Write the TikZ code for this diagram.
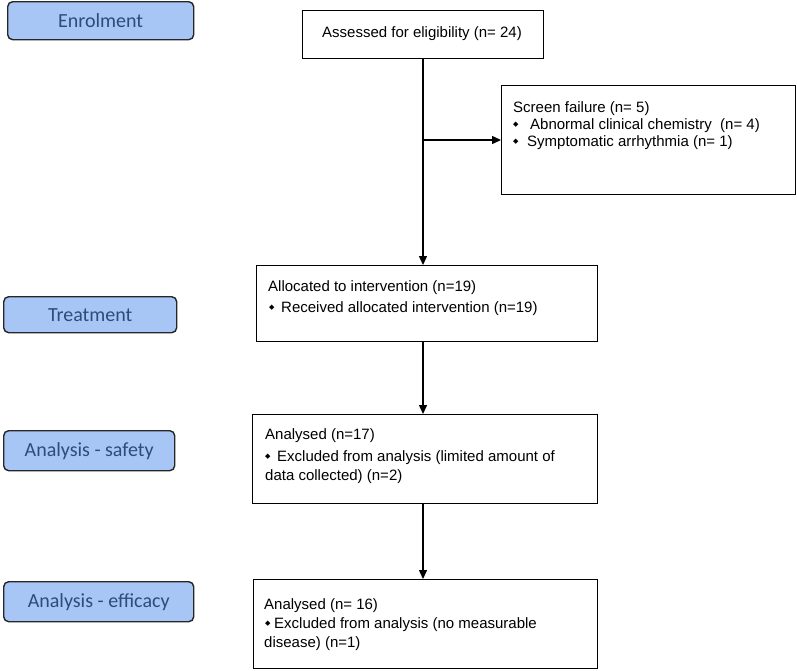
\documentclass[tikz,border=0pt]{standalone}
\usepackage{fontspec}
\setmainfont{Liberation Sans}
\newfontfamily\calib{Carlito}
\newfontfamily\djv{DejaVu Sans}
\usetikzlibrary{arrows.meta}
\definecolor{lblfill}{RGB}{168,198,245}
\definecolor{lbltext}{RGB}{47,74,125}
\newcommand\bul{\raisebox{3pt}{\fontsize{7}{7}\selectfont\djv ◆}}
\begin{document}
\begin{tikzpicture}[x=1pt,y=-1pt,
  box/.style={draw=black, line width=1.4pt, inner sep=0pt, anchor=north west},
  lbl/.style={draw=black!85, line width=1.4pt, rounded corners=5pt, fill=lblfill,
    text=lbltext, font=\calib\fontsize{20}{24}\selectfont, inner sep=0pt, anchor=north west},
  txt/.style={anchor=base west, inner sep=0pt, font=\fontsize{15}{18}\selectfont},
  ctxt/.style={anchor=base, inner sep=0pt, font=\fontsize{15}{18}\selectfont},
  arr/.style={line width=1.4pt, -{Triangle[length=9pt,width=8pt]}}]
\useasboundingbox (0,0) rectangle (797,670);

% stage labels
\node[lbl, minimum width=186pt, minimum height=38pt] (enr) at (7,1) {Enrolment};
\node[lbl, minimum width=173pt, minimum height=36pt] (trt) at (3,296) {Treatment};
\node[lbl, minimum width=171pt, minimum height=40pt] (saf) at (3,430) {Analysis - safety};
\node[lbl, minimum width=190pt, minimum height=40pt] (eff) at (3,581) {Analysis - efficacy};

% flow boxes
\node[box, minimum width=241pt, minimum height=48pt] (assess) at (302,10) {};
\node[box, minimum width=294pt, minimum height=109pt] (sf) at (501,85) {};
\node[box, minimum width=341pt, minimum height=76pt] (alloc) at (256,265) {};
\node[box, minimum width=345pt, minimum height=89pt] (an1) at (252,414) {};
\node[box, minimum width=344pt, minimum height=89pt] (an2) at (253,579) {};

% texts
\node[ctxt] (t0) at (422,37) {Assessed for eligibility (n= 24)};

\node[txt] (t1) at (513,112) {Screen failure (n= 5)};
\node[txt] (b1) at (513,129) {\bul};
\node[txt] (t2) at (530,129) {Abnormal clinical chemistry \ (n= 4)};
\node[txt] (b2) at (513,146) {\bul};
\node[txt] (t3) at (527,146) {Symptomatic arrhythmia (n= 1)};

\node[txt] (t4) at (268,291) {Allocated to intervention (n=19)};
\node[txt] (b3) at (269,312) {\bul};
\node[txt] (t5) at (281,312) {Received allocated intervention (n=19)};

\node[txt] (t6) at (265,439) {Analysed (n=17)};
\node[txt] (b4) at (265,461) {\bul};
\node[txt] (t7) at (277,461) {Excluded from analysis (limited amount of};
\node[txt] (t8) at (265,480) {data collected) (n=2)};

\node[txt] (t9) at (264,609) {Analysed (n= 16)};
\node[txt] (b5) at (265,628) {\bul};
\node[txt] (t10) at (274,628) {Excluded from analysis (no measurable};
\node[txt] (t11) at (264,647) {disease) (n=1)};

% connectors
\coordinate (spine) at (423,0);
\coordinate (br) at (423,140);
\draw[arr] (assess.south -| spine) -- (alloc.north -| spine);
\draw[arr] (br) -- (sf.west |- br);
\draw[arr] (alloc.south -| spine) -- (an1.north -| spine);
\draw[arr] (an1.south -| spine) -- (an2.north -| spine);
\end{tikzpicture}
\end{document}
